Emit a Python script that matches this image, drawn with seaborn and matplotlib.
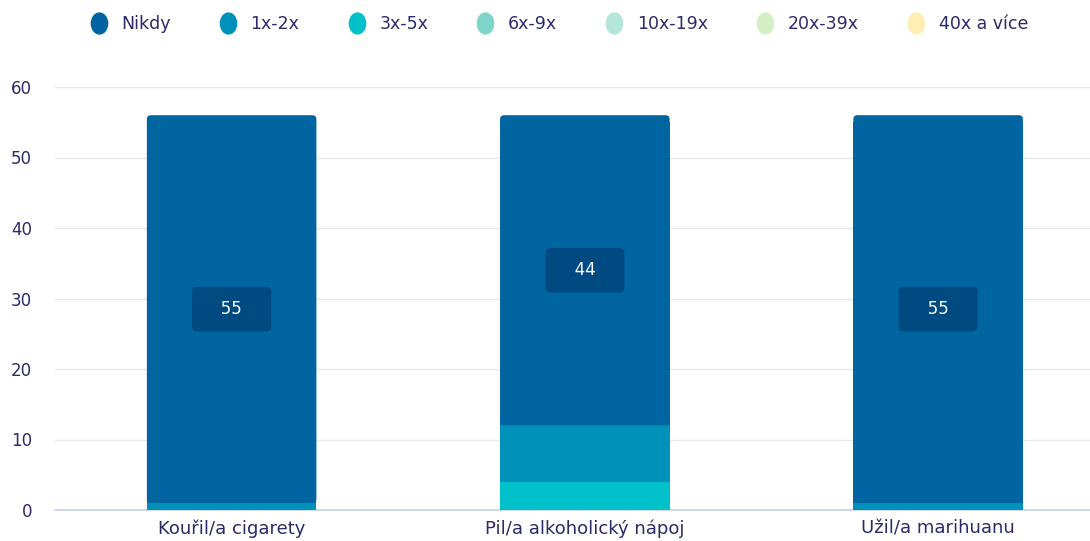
import pandas as pd
import seaborn as sns
import matplotlib.pyplot as plt
from matplotlib.lines import Line2D
from matplotlib.patches import FancyBboxPatch, Rectangle
from matplotlib.path import Path
from matplotlib.transforms import Affine2D

# categories and series (counts of respondents)
categories = ["Kouřil/a cigarety", "Pil/a alkoholický nápoj", "Užil/a marihuanu"]
series_names = ["Nikdy", "1x-2x", "3x-5x", "6x-9x", "10x-19x", "20x-39x", "40x a více"]
nikdy = [55, 44, 55]
x1_2 = [1, 8, 1]
x3_5 = [0, 4, 0]
x6_9 = [0, 0, 0]
x10_19 = [0, 0, 0]
x20_39 = [0, 0, 0]
x40 = [0, 0, 0]
y_ticks = [0, 10, 20, 30, 40, 50, 60]

colors = ["#0065a0", "#0091bb", "#00c1c9", "#7dd4c9", "#b3e6d6", "#d3efc3", "#fdeeb4"]
text_color = "#2b2a6b"

sns.set_theme(style="white")
plt.rcParams['font.family'] = ['DejaVu Sans']

# stack order bottom -> top
stack = [("3x-5x", x3_5), ("1x-2x", x1_2), ("Nikdy", nikdy)]
color_of = dict(zip(series_names, colors))

fig = plt.figure(figsize=(10.9, 5.41), dpi=100)
ax = fig.add_axes([55 / 1090, 31 / 541, 1035 / 1090, 423 / 541])

bottom = [0, 0, 0]
for name, vals in stack:
    df = pd.DataFrame({"cat": categories, "val": vals})
    sns.barplot(data=df, x="cat", y="val", ax=ax, color=color_of[name],
                width=0.48, bottom=bottom, saturation=1, linewidth=0, zorder=3)
    bottom = [b + v for b, v in zip(bottom, vals)]

ax.set_ylim(0, 60)
ax.set_xlim(-0.5, 2.43)

# round the top corners of the top segment
top_patches = ax.patches[-len(categories):]
r = 0.0115
aspect = 50.0
for p in top_patches:
    x, y, w, h = p.get_x(), p.get_y(), p.get_width(), p.get_height()
    fc = p.get_facecolor()
    p.set_visible(False)
    ax.add_patch(Rectangle((x, y), w, h - 1.0, fc=fc, ec="none", zorder=3))
    ax.add_patch(FancyBboxPatch((x, y), w, h, boxstyle=f"round,pad=0,rounding_size={r}",
                                mutation_aspect=aspect, fc=fc, ec="none", zorder=3))

# value labels for the "Nikdy" segment
below = [a + b for a, b in zip(x3_5, x1_2)]
for i, v in enumerate(nikdy):
    ax.text(i, below[i] + v / 2, f"   {v}   ", ha="center", va="center", color="white",
            fontsize=12, zorder=5,
            bbox=dict(boxstyle="round,pad=0.8,rounding_size=0.3", fc="#004a82",
                      ec="none"))

ax.set_yticks(y_ticks)
ax.set_xlabel("")
ax.set_ylabel("")
ax.grid(axis="y", color="#e6e8ee", linewidth=1, zorder=0)
for s in ["top", "right", "left"]:
    ax.spines[s].set_visible(False)
ax.spines["bottom"].set_color("#c9d3e8")
ax.tick_params(axis="both", length=0, colors=text_color, labelsize=12)
ax.tick_params(axis="y", pad=16.5)
ax.tick_params(axis="x", pad=7, labelsize=13)

ellipse = Path.unit_circle().transformed(Affine2D().scale(0.78, 1.0))
handles = [Line2D([0], [0], marker=ellipse, linestyle="", markersize=15,
                  markerfacecolor=c, markeredgecolor=c) for c in colors]
leg = fig.legend(handles, series_names, loc="center", bbox_to_anchor=(0.512, 0.955),
                 ncol=7, frameon=False, fontsize=12.5, handletextpad=0.7,
                 columnspacing=2.7, handlelength=1.2)
for t in leg.get_texts():
    t.set_color(text_color)

fig.savefig("out.png", dpi=100)
